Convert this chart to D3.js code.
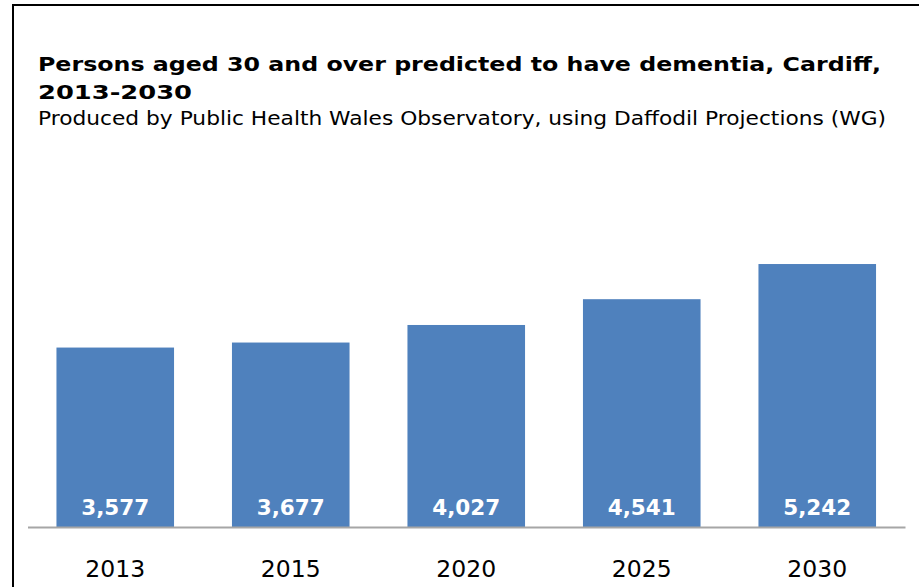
<!DOCTYPE html>
<html>
<head>
<meta charset="utf-8">
<script src="https://cdn.jsdelivr.net/npm/d3@7"></script>
<style>
  body { margin: 0; background: #fff; }
  text { font-family: "DejaVu Sans", Verdana, sans-serif; }
</style>
</head>
<body>
<div id="chart"></div>
<script>
var years = ["2013", "2015", "2020", "2025", "2030"];
var persons = [3577, 3677, 4027, 4541, 5242];

var svgWidth = 919;
var svgHeight = 587;

var svg = d3.select("#chart")
  .append("svg")
  .attr("width", svgWidth)
  .attr("height", svgHeight);

// outer frame (runs off the right and bottom edges)
svg.append("rect")
  .attr("x", 13)
  .attr("y", 5)
  .attr("width", 940)
  .attr("height", 620)
  .attr("fill", "none")
  .attr("stroke", "#000")
  .attr("stroke-width", 2);

// titles - stretched a bit since the original font is wider
svg.append("text")
  .attr("x", 38)
  .attr("y", 71)
  .attr("font-size", "19.5px")
  .attr("font-weight", "bold")
  .attr("textLength", 843)
  .attr("lengthAdjust", "spacingAndGlyphs")
  .text("Persons aged 30 and over predicted to have dementia, Cardiff,");

svg.append("text")
  .attr("x", 38)
  .attr("y", 99)
  .attr("font-size", "19.5px")
  .attr("font-weight", "bold")
  .attr("textLength", 154)
  .attr("lengthAdjust", "spacingAndGlyphs")
  .text("2013-2030");

svg.append("text")
  .attr("x", 38)
  .attr("y", 125)
  .attr("font-size", "19px")
  .attr("textLength", 848)
  .attr("lengthAdjust", "spacingAndGlyphs")
  .text("Produced by Public Health Wales Observatory, using Daffodil Projections (WG)");

var baseY = 527;

var x = d3.scaleBand()
  .domain(years)
  .range([27.5, 905])
  .paddingInner(0.33)
  .paddingOuter(0.165);

var y = d3.scaleLinear()
  .domain([0, 6000])
  .range([baseY, 226]);

svg.selectAll(".bar")
  .data(persons)
  .enter()
  .append("rect")
  .attr("class", "bar")
  .attr("x", (d, i) => x(years[i]))
  .attr("y", d => y(d))
  .attr("width", x.bandwidth())
  .attr("height", d => baseY - y(d))
  .attr("fill", "#4F81BD");

svg.selectAll(".val")
  .data(persons)
  .enter()
  .append("text")
  .attr("class", "val")
  .attr("x", (d, i) => x(years[i]) + x.bandwidth() / 2)
  .attr("y", baseY - 12)
  .attr("text-anchor", "middle")
  .attr("font-size", "21.5px")
  .attr("font-weight", "bold")
  .attr("fill", "#fff")
  .text(d => d3.format(",")(d));

// baseline axis
var bottomAxis = d3.axisBottom(x).tickSize(0).tickPadding(0);
var axisG = svg.append("g")
  .attr("transform", `translate(0, ${baseY})`)
  .call(bottomAxis);

axisG.select(".domain")
  .attr("stroke", "#A6A6A6")
  .attr("stroke-width", 2);

axisG.selectAll("text")
  .attr("dy", null)
  .attr("y", 50)
  .attr("font-size", "23.5px")
  .attr("font-family", "\"DejaVu Sans\", Verdana, sans-serif")
  .attr("fill", "#000");
</script>
</body>
</html>
